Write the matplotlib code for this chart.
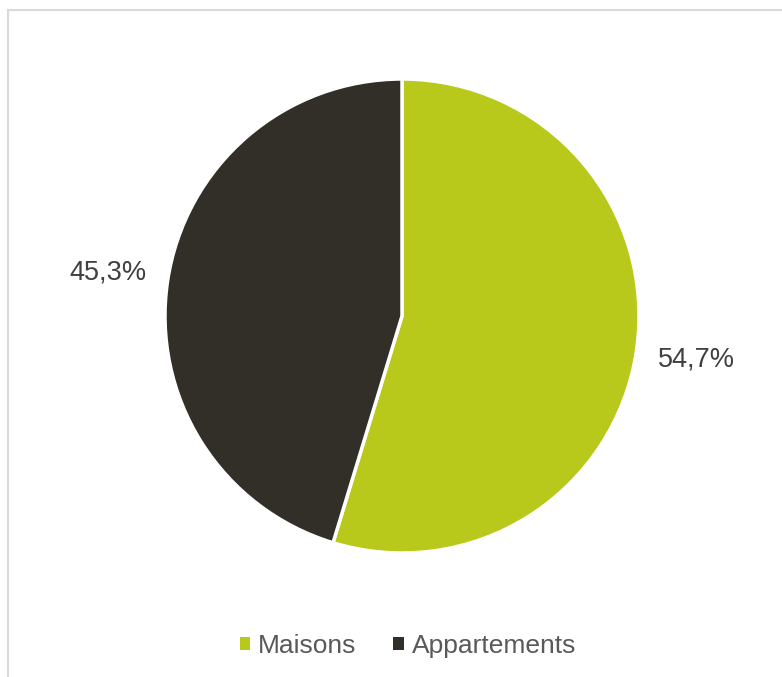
import matplotlib.pyplot as plt
from matplotlib.lines import Line2D
from matplotlib.patches import Patch

labels = ["Maisons", "Appartements"]
shares = [54.7, 45.3]
colors = ["#B9C91B", "#322F28"]

W, H = 782, 677
fig = plt.figure(figsize=(W / 100, H / 100), dpi=100)
ax = fig.add_axes([0, 0, 1, 1])
ax.set_xlim(0, W)
ax.set_ylim(0, H)
ax.set_aspect("equal")
ax.axis("off")

# chart-area frame (top and left edges visible)
fig.add_artist(Line2D([7.5 / W, 7.5 / W], [0, 1 - 9.5 / H], transform=fig.transFigure,
                      color="#D9D9D9", lw=1.5))
fig.add_artist(Line2D([7.5 / W, 1], [1 - 9.5 / H, 1 - 9.5 / H], transform=fig.transFigure,
                      color="#D9D9D9", lw=1.5))

wedges, texts, autotexts = ax.pie(
    shares, colors=colors, startangle=90, counterclock=False,
    center=(402, H - 316), radius=237,
    autopct=lambda p: f"{p:.1f}".replace(".", ",") + "%",
    pctdistance=1.255,
    wedgeprops=dict(edgecolor="white", linewidth=2.5),
    textprops=dict(fontsize=19.5, color="#404040", family="Liberation Sans"),
)
ax.set_xlim(0, W)
ax.set_ylim(0, H)

handles = [Patch(facecolor=c, edgecolor="none") for c in colors]
fig.legend(handles, labels, loc="center", bbox_to_anchor=(408 / W, 1 - 646 / H),
           ncol=2, frameon=False, handlelength=0.4, handleheight=0.4,
           handletextpad=0.3, columnspacing=1.4,
           prop=dict(family="Liberation Sans", size=19), labelcolor="#595959")

fig.savefig("out.png", dpi=100)
